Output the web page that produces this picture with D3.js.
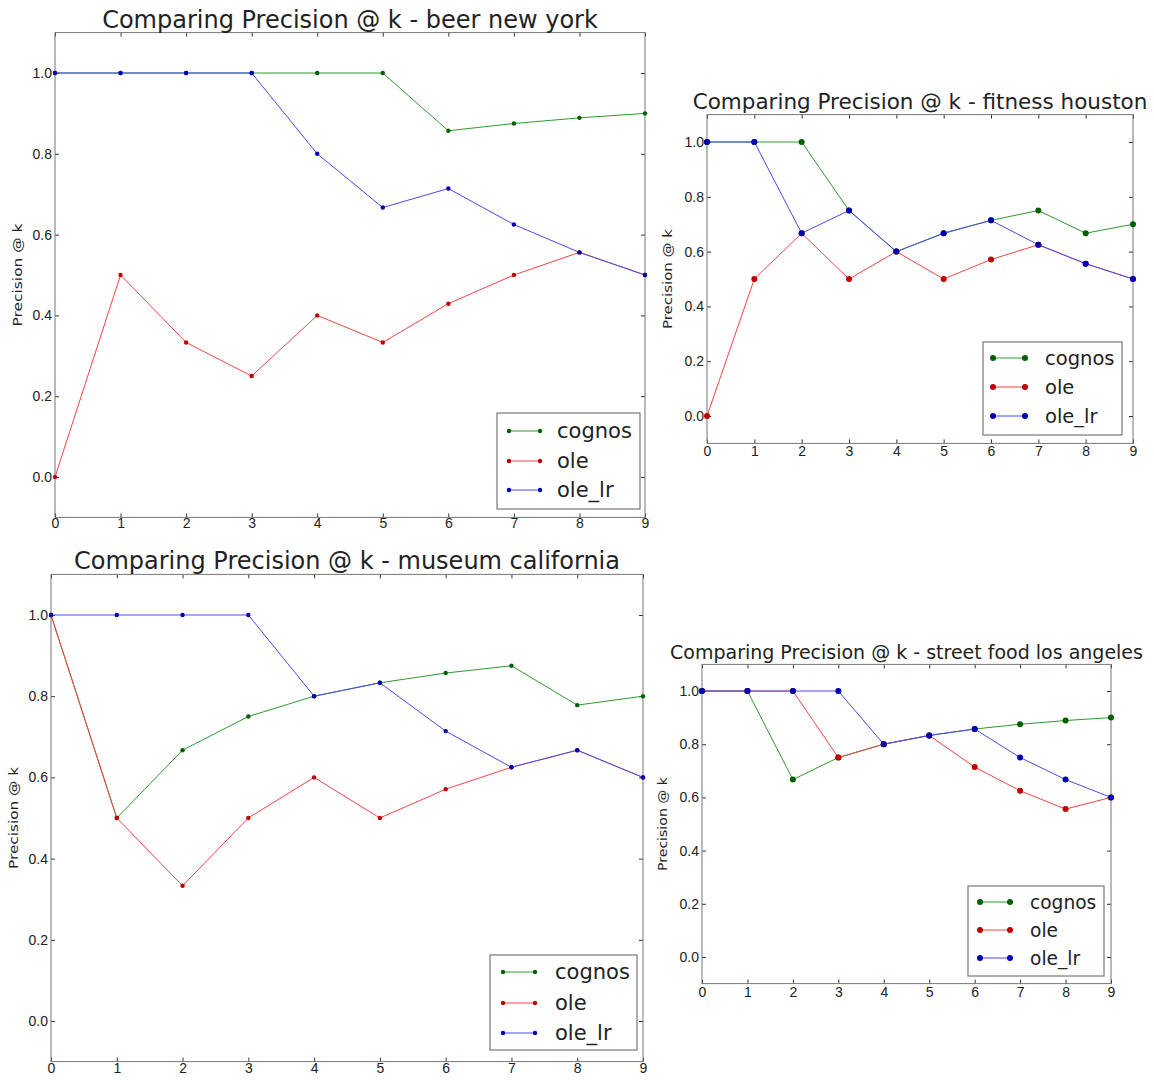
<!DOCTYPE html>
<html>
<head>
<meta charset="utf-8">
<script src="https://cdn.jsdelivr.net/npm/d3@7"></script>
<style>
  body { margin: 0; background: #fff; }
  svg { display: block; font-family: "DejaVu Sans", sans-serif; }
</style>
</head>
<body>
<svg id="chart" width="1154" height="1080"></svg>
<script>
// k positions and y ticks
const ks = [0, 1, 2, 3, 4, 5, 6, 7, 8, 9];
const yTicks = [0.0, 0.2, 0.4, 0.6, 0.8, 1.0];
const seriesNames = ["cognos", "ole", "ole_lr"];

// beer new york
const beerCognos = [1, 1, 1, 1, 1, 1, 0.857, 0.875, 0.889, 0.9];
const beerOle    = [0, 0.5, 0.333, 0.25, 0.4, 0.333, 0.429, 0.5, 0.556, 0.5];
const beerOleLr  = [1, 1, 1, 1, 0.8, 0.667, 0.714, 0.625, 0.556, 0.5];

// fitness houston
const fitCognos = [1, 1, 1, 0.75, 0.6, 0.667, 0.714, 0.75, 0.667, 0.7];
const fitOle    = [0, 0.5, 0.667, 0.5, 0.6, 0.5, 0.571, 0.625, 0.556, 0.5];
const fitOleLr  = [1, 1, 0.667, 0.75, 0.6, 0.667, 0.714, 0.625, 0.556, 0.5];

// museum california
const musCognos = [1, 0.5, 0.667, 0.75, 0.8, 0.833, 0.857, 0.875, 0.778, 0.8];
const musOle    = [1, 0.5, 0.333, 0.5, 0.6, 0.5, 0.571, 0.625, 0.667, 0.6];
const musOleLr  = [1, 1, 1, 1, 0.8, 0.833, 0.714, 0.625, 0.667, 0.6];

// street food los angeles
const sfCognos = [1, 1, 0.667, 0.75, 0.8, 0.833, 0.857, 0.875, 0.889, 0.9];
const sfOle    = [1, 1, 1, 0.75, 0.8, 0.833, 0.714, 0.625, 0.556, 0.6];
const sfOleLr  = [1, 1, 1, 1, 0.8, 0.833, 0.857, 0.75, 0.667, 0.6];

const lineColors = ["#2f9a2f", "#f04545", "#4a4af2"];
const markColors = ["#006000", "#c00000", "#0000b0"];

// layout of each subplot
const panels = [
  { title: "Comparing Precision @ k - beer new york", series: [beerCognos, beerOle, beerOleLr],
    x0: 55, x1: 645, y0: 32.6, y1: 517.4, titleY: 28, titleSize: 24, pad: 1, labelX: 22, labelLen: 103, r: 2.2,
    legend: { x: 497, y: 413, w: 143, h: 96, rowY: [431, 461, 490], l0: 509, l1: 540, tx: 557, fs: 21 } },
  { title: "Comparing Precision @ k - fitness houston", series: [fitCognos, fitOle, fitOleLr],
    x0: 707, x1: 1133, y0: 114.6, y1: 443.4, titleY: 109, titleSize: 21.5, pad: 3, labelX: 672, labelLen: 100, r: 3,
    legend: { x: 983, y: 342, w: 139, h: 93, rowY: [358, 387, 416], l0: 993, l1: 1025, tx: 1045, fs: 19.5 } },
  { title: "Comparing Precision @ k - museum california", series: [musCognos, musOle, musOleLr],
    x0: 51, x1: 643, y0: 574.4, y1: 1061.6, titleY: 569, titleSize: 24, pad: 1, labelX: 18, labelLen: 102, r: 2.2,
    legend: { x: 490, y: 955, w: 147, h: 95, rowY: [972, 1003, 1033], l0: 503, l1: 535, tx: 555, fs: 21 } },
  { title: "Comparing Precision @ k - street food los angeles", series: [sfCognos, sfOle, sfOleLr],
    x0: 702, x1: 1111, y0: 664.4, y1: 983.6, titleY: 659, titleSize: 19, pad: 3, labelX: 667, labelLen: 94, r: 3,
    legend: { x: 968, y: 886, w: 136, h: 90, rowY: [902, 930, 958], l0: 980, l1: 1010, tx: 1030, fs: 18.6 } }
];

const svg = d3.select("#chart");

function drawPanel(p) {
  const x = d3.scaleLinear().domain([0, 9]).range([p.x0, p.x1]);
  const y = d3.scaleLinear().domain([-0.1, 1.1]).range([p.y1, p.y0]);
  const g = svg.append("g");

  // axes with inward ticks on all four sides
  const styleAxis = sel => {
    sel.select(".domain").remove();
    sel.selectAll(".tick line").attr("stroke", "#333");
    sel.selectAll(".tick text").attr("fill", "#222").style("font-size", "14px");
  };
  g.append("g").attr("transform", `translate(0,${p.y1})`)
    .call(d3.axisBottom(x).tickValues(ks).tickFormat(d3.format("d")).tickSize(-4).tickPadding(p.pad))
    .call(styleAxis);
  g.append("g").attr("transform", `translate(0,${p.y0})`)
    .call(d3.axisTop(x).tickValues(ks).tickFormat("").tickSize(-4))
    .call(styleAxis);
  g.append("g").attr("transform", `translate(${p.x0},0)`)
    .call(d3.axisLeft(y).tickValues(yTicks).tickFormat(d3.format(".1f")).tickSize(-4).tickPadding(3))
    .call(styleAxis);
  g.append("g").attr("transform", `translate(${p.x1},0)`)
    .call(d3.axisRight(y).tickValues(yTicks).tickFormat("").tickSize(-4))
    .call(styleAxis);

  // frame
  g.append("rect")
    .attr("x", p.x0).attr("y", p.y0)
    .attr("width", p.x1 - p.x0).attr("height", p.y1 - p.y0)
    .attr("fill", "none").attr("stroke", "#777").attr("stroke-width", 1);

  // lines and markers
  const line = d3.line().x((d, i) => x(ks[i])).y(d => y(d));
  p.series.forEach((vals, si) => {
    g.append("path").datum(vals)
      .attr("d", line).attr("fill", "none")
      .attr("stroke", lineColors[si]).attr("stroke-width", 1);
    g.selectAll(null).data(vals).enter().append("circle")
      .attr("cx", (d, i) => x(ks[i])).attr("cy", d => y(d))
      .attr("r", p.r).attr("fill", markColors[si]);
  });

  // title and y label
  g.append("text")
    .attr("x", (p.x0 + p.x1) / 2).attr("y", p.titleY)
    .attr("text-anchor", "middle").attr("fill", "#222")
    .style("font-size", p.titleSize + "px")
    .text(p.title);
  g.append("text")
    .attr("transform", `translate(${p.labelX},${(p.y0 + p.y1) / 2}) rotate(-90)`)
    .attr("text-anchor", "middle").attr("fill", "#222")
    .attr("textLength", p.labelLen).attr("lengthAdjust", "spacingAndGlyphs")
    .style("font-size", "13px")
    .text("Precision @ k");

  // legend
  const L = p.legend;
  g.append("rect")
    .attr("x", L.x).attr("y", L.y).attr("width", L.w).attr("height", L.h)
    .attr("fill", "#fff").attr("stroke", "#777").attr("stroke-width", 1.2);
  seriesNames.forEach((name, si) => {
    const ry = L.rowY[si];
    g.append("line")
      .attr("x1", L.l0).attr("x2", L.l1).attr("y1", ry).attr("y2", ry)
      .attr("stroke", lineColors[si]).attr("stroke-width", 1);
    [L.l0, L.l1].forEach(cx => g.append("circle")
      .attr("cx", cx).attr("cy", ry).attr("r", p.r).attr("fill", markColors[si]));
    g.append("text")
      .attr("x", L.tx).attr("y", ry).attr("dy", "0.35em")
      .attr("fill", "#222").style("font-size", L.fs + "px")
      .text(name);
  });
}

panels.forEach(drawPanel);
</script>
</body>
</html>
